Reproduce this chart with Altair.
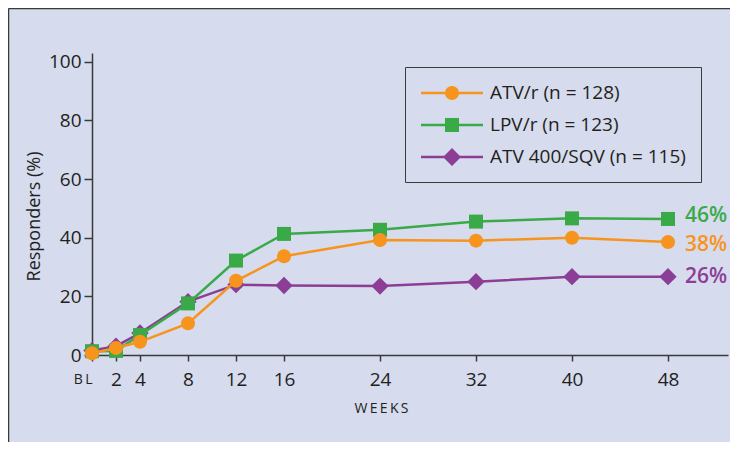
import altair as alt
import pandas as pd

weeks = [0, 2, 4, 8, 12, 16, 24, 32, 40, 48]
atv_r = [0.6, 2.4, 4.5, 10.8, 25.3, 33.7, 39.2, 39.0, 40.0, 38.5]
lpv_r = [1.3, 1.4, 6.8, 17.6, 32.2, 41.3, 42.7, 45.5, 46.6, 46.4]
atv_sqv = [1.5, 3.0, 7.5, 18.2, 24.0, 23.7, 23.5, 25.0, 26.7, 26.7]

series_names = ["ATV/r (n = 128)", "LPV/r (n = 123)", "ATV 400/SQV (n = 115)"]
series_values = [atv_r, lpv_r, atv_sqv]
colors = ["#f7941d", "#3aaa49", "#8c3e96"]
shapes = ["circle", "square", "diamond"]
marker_sizes = [196, 196, 300]
end_labels = ["38%", "46%", "26%"]
end_dy = [3, -3, 0]
y_ticks = [0, 20, 40, 60, 80, 100]

# legend symbols: a line segment with the marker in its middle (unit = 10 px)
LINE = "M-1,-0.125H5.2V0.125H-1Z"
legend_paths = [
    LINE + "M2.8,0A0.7,0.7,0,1,1,1.4,0A0.7,0.7,0,1,1,2.8,0Z",
    LINE + "M1.4,-0.7H2.8V0.7H1.4Z",
    LINE + "M2.1,-0.9L3.0,0L2.1,0.9L1.2,0Z",
]

rows = []
for name, vals in zip(series_names, series_values):
    for w, v in zip(weeks, vals):
        rows.append({"week": w, "value": v, "series": name})
df = pd.DataFrame(rows)

FONT = "Open Sans"
TXT = "#231f20"
BG = "#d6dbed"
DARK = "#3a3a3a"

x_enc = alt.X(
    "week:Q",
    scale=alt.Scale(domain=[0, 53], nice=False, zero=False),
    axis=alt.Axis(
        values=weeks,
        labelExpr="datum.value == 0 ? 'B\u2009L' : datum.label",
        labelFontSize={"condition": {"test": "datum.value == 0", "value": 14}, "value": 19},
        labelAlign={"condition": {"test": "datum.value == 0", "value": "right"}, "value": "center"},
        labelBaseline="middle",
        labelPadding=18,
        tickSize=6,
        title="W\u2009E\u2009E\u2009K\u2009S",
        titleFontSize=14,
        titleFontWeight="normal",
        titleBaseline="middle",
        titleX=289,
        titleY=53,
        grid=False,
    ),
)
y_enc = alt.Y(
    "value:Q",
    scale=alt.Scale(domain=[0, 103], nice=False),
    axis=alt.Axis(
        values=y_ticks,
        tickSize=8,
        labelPadding=3,
        labelFontSize=19,
        title="Responders (%)",
        titleFontSize=18,
        titleFontWeight="normal",
        titleBaseline="middle",
        titleX=-58,
        titleY=163,
        grid=False,
    ),
)

layers = []
frame = pd.DataFrame({"k": [0]})
layers.append(alt.Chart(frame).mark_rule(color=DARK, strokeWidth=1.5).encode(
    x=alt.value(-83.5), y=alt.value(-44.5), y2=alt.value(400)))
layers.append(alt.Chart(frame).mark_rule(color=DARK, strokeWidth=1.5).encode(
    x=alt.value(-83.5), x2=alt.value(640), y=alt.value(-44.5)))

for i in [2, 1, 0]:
    name = series_names[i]
    sub = alt.Chart(df).transform_filter(alt.datum.series == name)
    layers.append(sub.mark_line(strokeWidth=2.5, color=colors[i]).encode(x=x_enc, y=y_enc))
    layers.append(sub.mark_point(filled=True, opacity=1, shape=shapes[i], size=marker_sizes[i],
                                 color=colors[i]).encode(x=x_enc, y=y_enc))

for i in range(3):
    last = pd.DataFrame({"week": [weeks[-1]], "value": [series_values[i][-1]], "label": [end_labels[i]]})
    layers.append(alt.Chart(last).mark_text(
        align="left", baseline="middle", dx=17, dy=end_dy[i], font=FONT, fontSize=21,
        fontWeight=600, color=colors[i]).encode(x=x_enc, y=y_enc, text="label:N"))

legend_def = alt.Legend(
    title=None, orient="none", legendX=313, legendY=14,
    padding=15, strokeColor=DARK, labelFontSize=19, labelFont=FONT,
    labelColor=TXT, labelLimit=400, symbolSize=400,
    labelOffset=48, rowPadding=11,
)
legend_layer = alt.Chart(df).transform_filter("false").mark_point(
    filled=True, opacity=1, size=400).encode(
    x=x_enc, y=y_enc,
    color=alt.Color("series:N", scale=alt.Scale(domain=series_names, range=colors), legend=legend_def),
    shape=alt.Shape("series:N", scale=alt.Scale(domain=series_names, range=legend_paths), legend=legend_def),
)
layers.append(legend_layer)

chart = alt.layer(*layers).properties(
    width=636, height=302,
    autosize=alt.AutoSizeParams(type="none"),
    padding={"left": 84, "top": 45, "right": 2, "bottom": 87},
    background=BG,
).configure_view(stroke=None).configure_axis(
    domainColor=DARK, domainWidth=1.5, tickColor=DARK, tickWidth=1.5,
    labelFont=FONT, titleFont=FONT, labelColor=TXT, titleColor=TXT,
)

chart.save("out.html", embed_options={"renderer": "svg", "actions": False})
